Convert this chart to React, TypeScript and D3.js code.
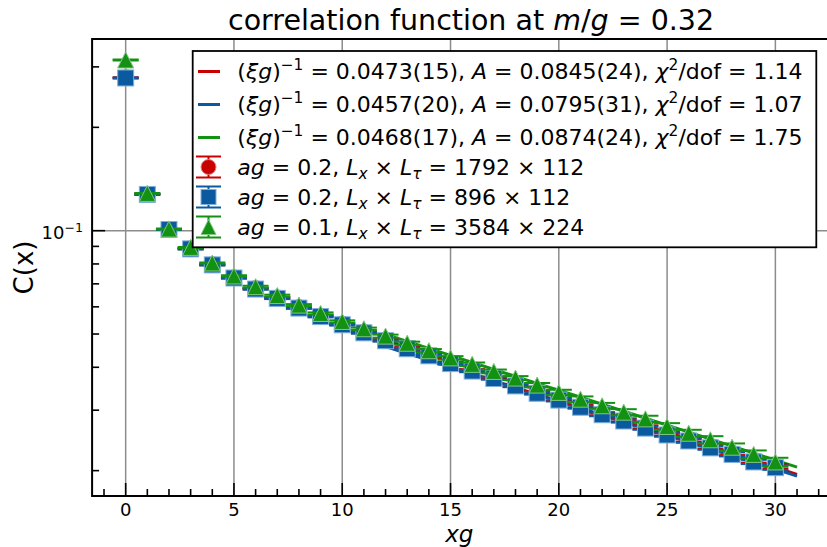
import React from "react";
import * as d3 from "d3";

// ---------- data ----------
const xs = [0,1,2,3,4,5,6,7,8,9,10,11,12,13,14,15,16,17,18,19,20,21,22,23,24,25,26,27,28,29,30];

const redC = [0.2790,0.1277,0.1009,0.0886,0.0796,0.0729,0.0678,0.0637,0.0597,0.0564,0.0534,0.0506,0.0480,0.0455,0.0434,0.0412,0.0392,0.0373,0.0355,0.0338,0.0323,0.0308,0.0293,0.0281,0.0268,0.0256,0.0246,0.0235,0.0225,0.0214,0.0206];
const blueC = [0.2785,0.1275,0.1008,0.0885,0.0795,0.0728,0.0676,0.0635,0.0595,0.0562,0.0532,0.0504,0.0478,0.0453,0.0432,0.0410,0.0390,0.0371,0.0353,0.0336,0.0321,0.0306,0.0291,0.0279,0.0266,0.0254,0.0244,0.0233,0.0223,0.0212,0.0204];
const greenC = [0.3142,0.1284,0.1011,0.0894,0.0805,0.0738,0.0687,0.0647,0.0607,0.0574,0.0544,0.0518,0.0493,0.0470,0.0447,0.0426,0.0408,0.0389,0.0372,0.0355,0.0338,0.0323,0.0309,0.0296,0.0283,0.0269,0.0257,0.0246,0.0234,0.0223,0.0212];

const redErr = [0.0010,0.0004,0.0003,0.0003,0.0003,0.0003,0.0003,0.0003,0.0003,0.0003,0.0003,0.0003,0.0003,0.0003,0.0003,0.0003,0.0003,0.0003,0.0003,0.0003,0.0003,0.0003,0.0003,0.0003,0.0003,0.0003,0.0003,0.0003,0.0003,0.0003,0.0003];
const blueErr = [0.0010,0.0004,0.0003,0.0003,0.0003,0.0003,0.0003,0.0003,0.0003,0.0003,0.0003,0.0003,0.0003,0.0003,0.0003,0.0003,0.0003,0.0003,0.0003,0.0003,0.0003,0.0003,0.0003,0.0003,0.0003,0.0003,0.0003,0.0003,0.0003,0.0003,0.0003];
const greenErr = [0.0010,0.0004,0.0003,0.0003,0.0003,0.0003,0.0004,0.0004,0.0004,0.0004,0.0004,0.0004,0.0005,0.0005,0.0005,0.0005,0.0005,0.0005,0.0005,0.0005,0.0006,0.0006,0.0006,0.0006,0.0006,0.0006,0.0006,0.0006,0.0006,0.0006,0.0006];

// fit parameters from the legend: C(x) = A exp(-(xi g)^-1 x)
const fitXiInv = [0.0473, 0.0457, 0.0468];
const fitA = [0.0845, 0.0795, 0.0874];
const fitRange = [12, 31];

const xMajor = [0, 5, 10, 15, 20, 25, 30];
const xMinor = [-1,1,2,3,4,6,7,8,9,11,12,13,14,16,17,18,19,21,22,23,24,26,27,28,29,31,32];
const yMajor = [0.1];
const yMinor = [0.02,0.03,0.04,0.05,0.06,0.07,0.08,0.09,0.2,0.3];

const colors = ["#c80000", "#0b5a9f", "#129112"];
const edgeColors = ["#e08080", "#7fb0dc", "#80c880"];

// ---------- layout ----------
const W = 827, H = 547;
const L = 92.1, R = 830.6, T = 39, B = 496;
const FONT = "DejaVu Sans, Liberation Sans, sans-serif";

type Seg = { t: string; it?: boolean; sup?: boolean; sub?: boolean };

function MathText({ x, y, segs, size, anchor = "start" }: { x: number; y: number; segs: Seg[]; size: number; anchor?: string }) {
  let cur = 0;
  const out: any[] = [];
  segs.forEach((s, i) => {
    const target = s.sup ? -0.42 * size : s.sub ? 0.22 * size : 0;
    const dy = target - cur;
    cur = target;
    out.push(
      <tspan key={i} dy={dy} fontStyle={s.it ? "italic" : "normal"} fontSize={s.sup || s.sub ? size * 0.7 : size}>
        {s.t}
      </tspan>
    );
  });
  return (
    <text x={x} y={y} fontFamily={FONT} fontSize={size} textAnchor={anchor as any} fill="#000" style={{ whiteSpace: "pre" }}>
      {out}
    </text>
  );
}

export default function App() {
  const x = d3.scaleLinear().domain([-1.55, 32.55]).range([L, R]);
  const y = d3.scaleLog().domain([0.01687, 0.3617]).range([B, T]);

  const series = [redC, blueC, greenC];
  const errs = [redErr, blueErr, greenErr];
  const ms = 16;
  const cap = 13;

  const fitPaths = fitA.map((A, k) => {
    const pts = d3.range(fitRange[0], fitRange[1] + 0.001, 0.5).map((xx) => [xx, A * Math.exp(-fitXiInv[k] * xx)] as [number, number]);
    return d3.line<[number, number]>().x((d) => x(d[0])).y((d) => y(d[1]))(pts) as string;
  });

  const marker = (k: number, cx: number, cy: number, size: number, key: string) => {
    const h = size / 2;
    if (k === 0) return <circle key={key} cx={cx} cy={cy} r={h} fill={colors[0]} stroke={edgeColors[0]} strokeWidth={1} />;
    if (k === 1) return <rect key={key} x={cx - h} y={cy - h} width={size} height={size} fill={colors[1]} stroke={edgeColors[1]} strokeWidth={1} />;
    return <path key={key} d={`M${cx},${cy - h}L${cx + h},${cy + h}L${cx - h},${cy + h}Z`} fill={colors[2]} stroke={edgeColors[2]} strokeWidth={1} />;
  };

  const legendRows = [71.5, 104.5, 137.5, 167, 197, 227];
  const legendTexts: Seg[][] = [
    [{ t: "(" }, { t: "ξg", it: true }, { t: ")" }, { t: "−1", sup: true }, { t: " = 0.0473(15), " }, { t: "A", it: true }, { t: " = 0.0845(24), " }, { t: "χ", it: true }, { t: "2", sup: true }, { t: "/dof = 1.14" }],
    [{ t: "(" }, { t: "ξg", it: true }, { t: ")" }, { t: "−1", sup: true }, { t: " = 0.0457(20), " }, { t: "A", it: true }, { t: " = 0.0795(31), " }, { t: "χ", it: true }, { t: "2", sup: true }, { t: "/dof = 1.07" }],
    [{ t: "(" }, { t: "ξg", it: true }, { t: ")" }, { t: "−1", sup: true }, { t: " = 0.0468(17), " }, { t: "A", it: true }, { t: " = 0.0874(24), " }, { t: "χ", it: true }, { t: "2", sup: true }, { t: "/dof = 1.75" }],
    [{ t: "ag", it: true }, { t: " = 0.2, " }, { t: "L", it: true }, { t: "x", it: true, sub: true }, { t: " × " }, { t: "L", it: true }, { t: "τ", it: true, sub: true }, { t: " = 1792 × 112" }],
    [{ t: "ag", it: true }, { t: " = 0.2, " }, { t: "L", it: true }, { t: "x", it: true, sub: true }, { t: " × " }, { t: "L", it: true }, { t: "τ", it: true, sub: true }, { t: " = 896 × 112" }],
    [{ t: "ag", it: true }, { t: " = 0.1, " }, { t: "L", it: true }, { t: "x", it: true, sub: true }, { t: " × " }, { t: "L", it: true }, { t: "τ", it: true, sub: true }, { t: " = 3584 × 224" }],
  ];

  return (
    <div style={{ position: "fixed", left: 0, top: 0, width: W, height: H, background: "#fff" }}>
      <svg width={W} height={H} viewBox={`0 0 ${W} ${H}`} style={{ display: "block" }}>
        <defs>
          <clipPath id="plotclip">
            <rect x={L} y={T} width={R - L} height={B - T} />
          </clipPath>
        </defs>
        <rect x={0} y={0} width={W} height={H} fill="#fff" />

        {/* grid */}
        <g stroke="#8c8c8c" strokeWidth={1.5}>
          {xMajor.map((v) => (
            <line key={"gx" + v} x1={x(v)} x2={x(v)} y1={T} y2={B} />
          ))}
          {yMajor.map((v) => (
            <line key={"gy" + v} x1={L} x2={R} y1={y(v)} y2={y(v)} />
          ))}
        </g>

        <g clipPath="url(#plotclip)">
          {fitPaths.map((d, k) => (
            <path key={"fit" + k} d={d} fill="none" stroke={colors[k]} strokeWidth={3} />
          ))}
          {series.map((vals, k) => (
            <g key={"s" + k}>
              {vals.map((v, i) => {
                const cx = x(xs[i]);
                const y1 = y(v + errs[k][i]);
                const y2 = y(v - errs[k][i]);
                return (
                  <g key={i}>
                    <line x1={cx} x2={cx} y1={y1} y2={y2} stroke={colors[k]} strokeWidth={2} />
                    <line x1={cx - cap} x2={cx + cap} y1={y1} y2={y1} stroke={colors[k]} strokeWidth={2} />
                    <line x1={cx - cap} x2={cx + cap} y1={y2} y2={y2} stroke={colors[k]} strokeWidth={2} />
                  </g>
                );
              })}
              {vals.map((v, i) => marker(k, x(xs[i]), y(v), ms, "m" + i))}
            </g>
          ))}
        </g>

        {/* ticks */}
        <g stroke="#000" strokeWidth={1.6}>
          {xMajor.map((v) => (
            <line key={"tx" + v} x1={x(v)} x2={x(v)} y1={B} y2={B - 13} />
          ))}
          {xMinor.map((v) => (
            <line key={"tmx" + v} x1={x(v)} x2={x(v)} y1={B} y2={B - 7} />
          ))}
          {yMajor.map((v) => (
            <line key={"ty" + v} x1={L} x2={L + 13} y1={y(v)} y2={y(v)} />
          ))}
          {yMinor.map((v) => (
            <line key={"tmy" + v} x1={L} x2={L + 7} y1={y(v)} y2={y(v)} />
          ))}
        </g>

        {/* spines */}
        <rect x={L} y={T} width={R - L} height={B - T} fill="none" stroke="#000" strokeWidth={2} />

        {/* tick labels */}
        {xMajor.map((v) => (
          <text key={"lx" + v} x={x(v)} y={515.5} textAnchor="middle" fontFamily={FONT} fontSize={18}>
            {String(v)}
          </text>
        ))}
        {yMajor.map((v) => (
          <MathText key={"ly" + v} x={83} y={y(v) + 8.5} size={18} anchor="end" segs={[{ t: "10" }, { t: "−1", sup: true }]} />
        ))}

        {/* axis labels */}
        <text x={(L + R) / 2 - 2} y={541.5} textAnchor="middle" fontFamily={FONT} fontSize={23} fontStyle="italic">
          xg
        </text>
        <text transform={`translate(33,${(T + B) / 2}) rotate(-90)`} textAnchor="middle" fontFamily={FONT} fontSize={26}>
          C(x)
        </text>

        {/* title */}
        <MathText
          x={228}
          y={30}
          size={28.5}
          segs={[{ t: "correlation function at " }, { t: "m", it: true }, { t: "/" }, { t: "g", it: true }, { t: " = 0.32" }]}
        />

        {/* legend */}
        <rect x={192.7} y={51} width={816.3 - 192.7} height={247.3 - 51} fill="#fff" stroke="#000" strokeWidth={1.8} />
        {[0, 1, 2].map((k) => (
          <line key={"lh" + k} x1={198} x2={220} y1={legendRows[k]} y2={legendRows[k]} stroke={colors[k]} strokeWidth={3} />
        ))}
        {[0, 1, 2].map((k) => {
          const cy = legendRows[k + 3];
          const cx = 208.5;
          return (
            <g key={"le" + k}>
              <line x1={cx} x2={cx} y1={cy - 10.5} y2={cy + 10.5} stroke={colors[k]} strokeWidth={2} />
              <line x1={cx - 12.5} x2={cx + 12.5} y1={cy - 10.5} y2={cy - 10.5} stroke={colors[k]} strokeWidth={2} />
              <line x1={cx - 12.5} x2={cx + 12.5} y1={cy + 10.5} y2={cy + 10.5} stroke={colors[k]} strokeWidth={2} />
              {marker(k, cx, cy, 15, "lm" + k)}
            </g>
          );
        })}
        {legendTexts.map((segs, i) => (
          <MathText key={"lt" + i} x={237.3} y={legendRows[i] + 7.5} size={22} segs={segs} />
        ))}
      </svg>
    </div>
  );
}
